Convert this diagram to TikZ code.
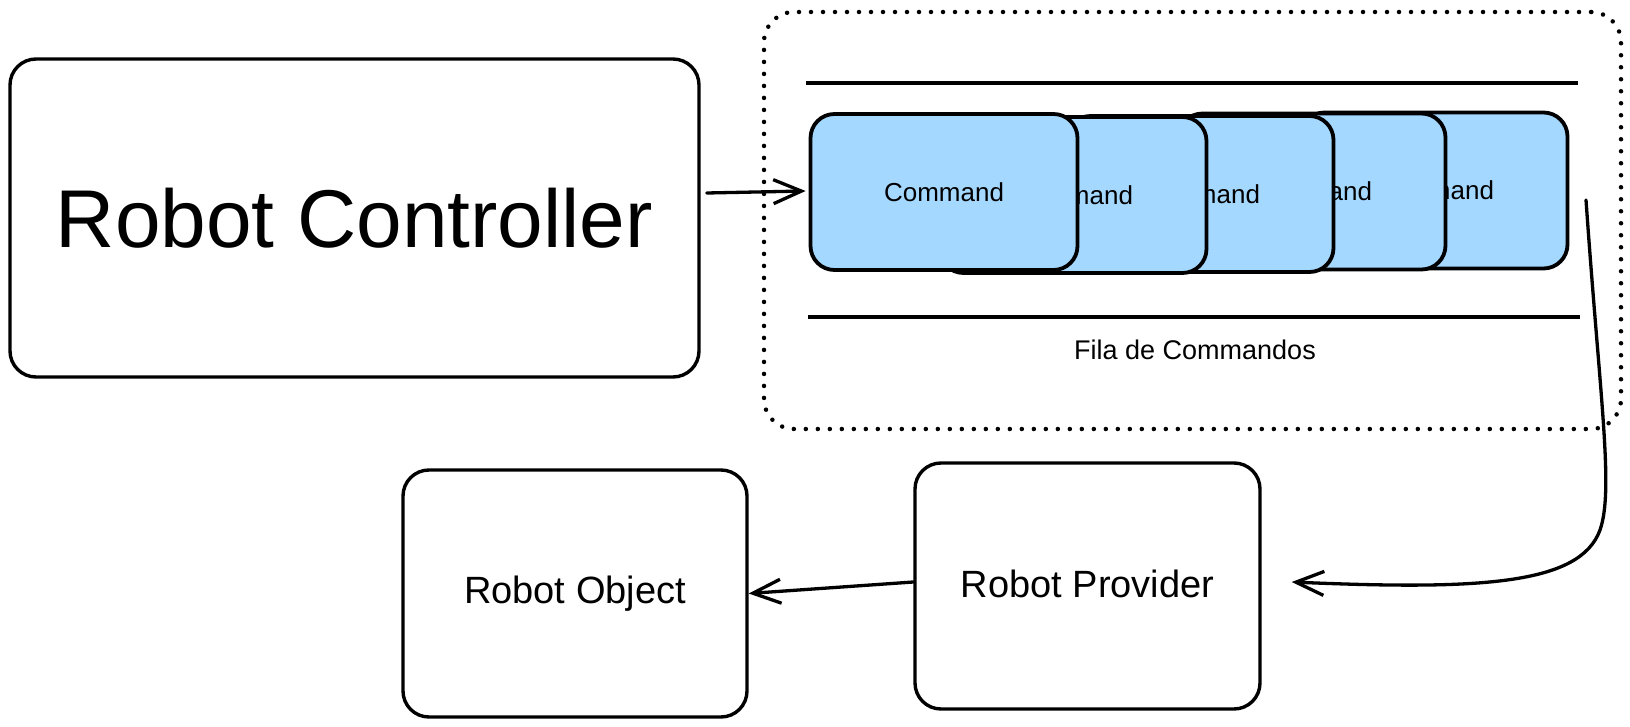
\documentclass[tikz,border=0pt]{standalone}
\usepackage{fontspec}
\setmainfont{Liberation Sans}
\usetikzlibrary{arrows.meta}
\definecolor{cmdblue}{HTML}{A5D8FF}
\tikzset{
  box/.style={draw=black, line width=3.4pt, rounded corners=26pt, fill=white, inner sep=0pt},
  cmdbox/.style={draw=black, line width=3.8pt, rounded corners=24pt, fill=cmdblue,
    minimum width=267pt, minimum height=156pt, inner sep=0pt, font=\fontsize{26}{30}\selectfont},
  queuebox/.style={draw=black, line width=4.5pt, dash pattern=on 0pt off 12pt, line cap=round,
    rounded corners=30pt, inner sep=0pt},
  conn/.style={draw=black, line width=3.3pt, line cap=round,
    -{Straight Barb[length=28pt,width=24pt,line width=3.3pt]}},
  rule/.style={draw=black, line width=3.8pt},
}
\begin{document}
\begin{tikzpicture}[x=1pt,y=-1pt]
\useasboundingbox (0,0) rectangle (1630,727);
% queue container
\node[queuebox, minimum width=857pt, minimum height=417pt] (queue) at (1192.5,220.5) {};
\draw[rule] (806,83) -- (1578,83);
\draw[rule] (808,317) -- (1580,317);
\node[font=\fontsize{27}{32}\selectfont] (qlabel) at (1195,350) {Fila de Commandos};
% command boxes (back to front)
\node[cmdbox] (c5) at (1434,190.5) {Command};
\node[cmdbox] (c4) at (1312,191.5) {Command};
\node[cmdbox] (c3) at (1200,194) {Command};
\node[cmdbox] (c2) at (1073,195) {Command};
\node[cmdbox] (c1) at (944,192) {Command};
% main boxes
\node[box, minimum width=689pt, minimum height=318pt, font=\fontsize{82}{90}\selectfont] (ctrl) at (354.5,218) {Robot Controller};
\node[box, minimum width=344pt, minimum height=247pt, font=\fontsize{38}{44}\selectfont] (obj) at (575,593.5) {Robot Object};
\node[box, minimum width=345pt, minimum height=246pt, font=\fontsize{38}{44}\selectfont] (prov) at (1087.5,586) {\raisebox{4pt}{Robot Provider}};
% connectors
\coordinate (qout) at (1586,200);
\draw[conn] ([xshift=6pt,yshift=25pt]ctrl.east) -- ([xshift=-3pt,yshift=1pt]c1.west);
\draw[conn] (qout) .. controls (1600,400) and (1614,490) .. (1600,530)
  .. controls (1580,585) and (1480,590) .. ([xshift=30pt,yshift=4pt]prov.east);
\draw[conn] ([yshift=4pt]prov.west) -- (obj.east);
\end{tikzpicture}
\end{document}
